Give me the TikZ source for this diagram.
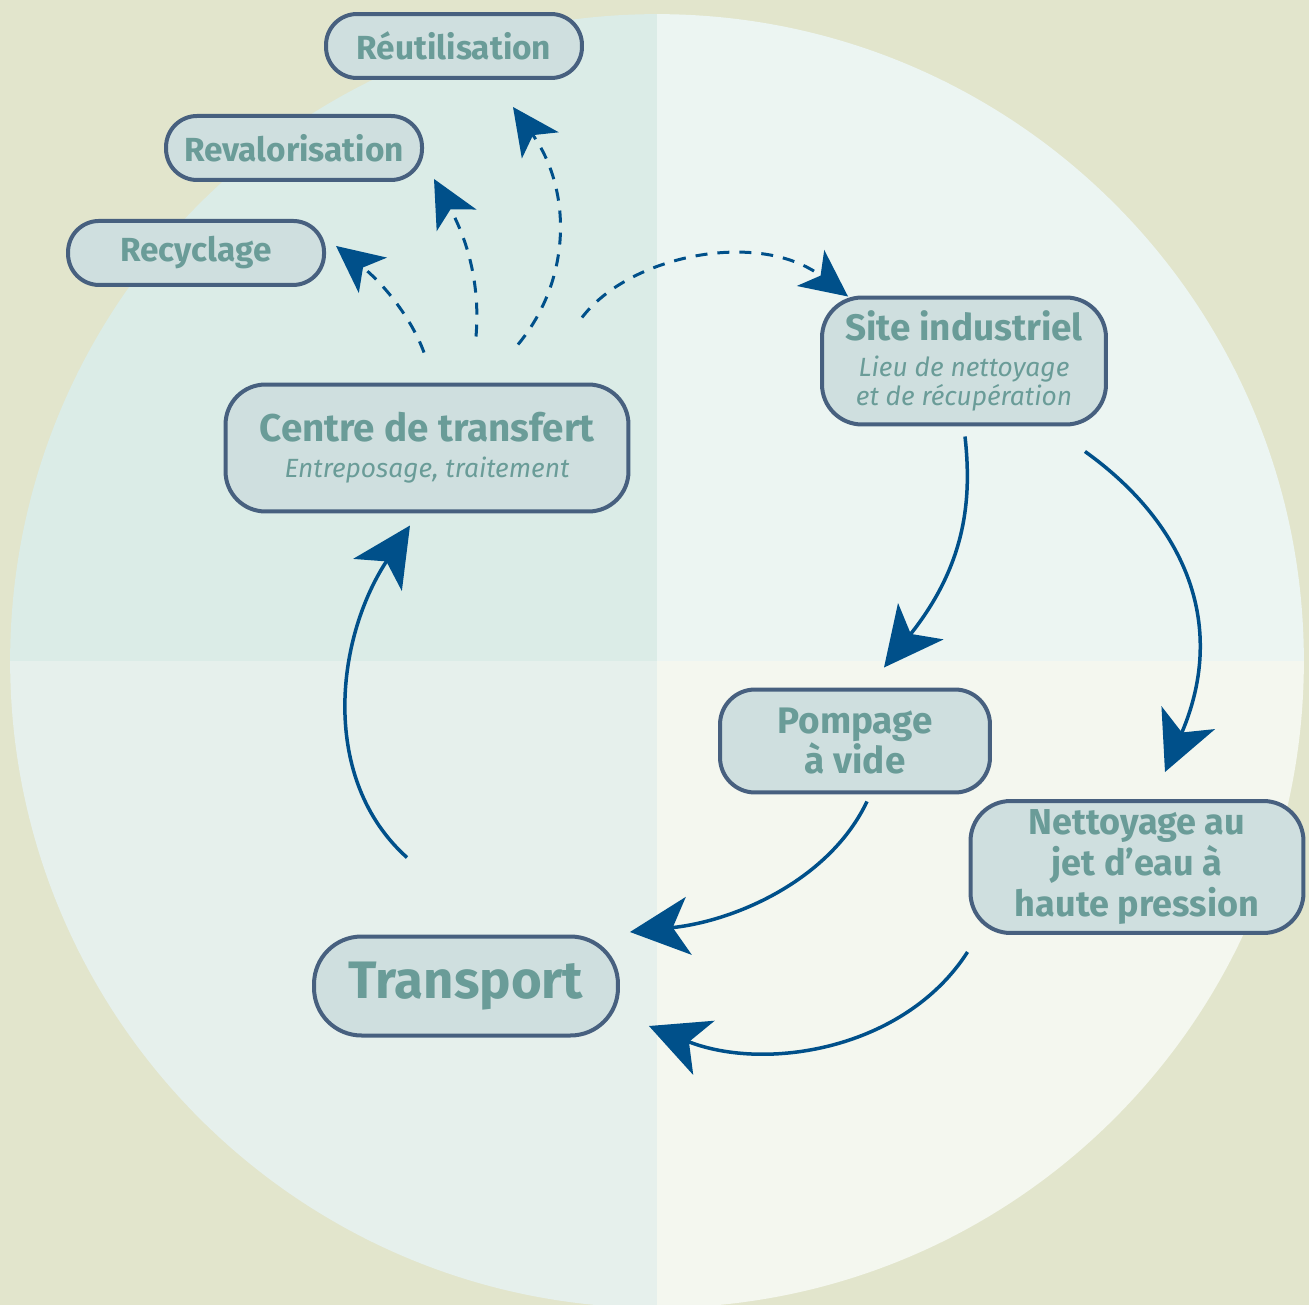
\documentclass[tikz,border=0pt]{standalone}
\usepackage{fontspec}
\setmainfont{Fira Sans}
\usetikzlibrary{positioning,calc,arrows.meta}

\definecolor{backdrop}{HTML}{E2E5CC}
\definecolor{quadnw}{HTML}{DBECE7}
\definecolor{quadne}{HTML}{ECF5F2}
\definecolor{quadsw}{HTML}{E6F0EC}
\definecolor{quadse}{HTML}{F4F7EF}
\definecolor{boxfill}{HTML}{CFDFDF}
\definecolor{boxrim}{HTML}{47607F}
\definecolor{labeltext}{HTML}{6A9C98}
\definecolor{flowblue}{HTML}{00508A}

\newcommand{\pillwidth}{5.12cm}
\newcommand{\pillheight}{1.28cm}
\newcommand{\rimwidth}{0.08cm}
\newcommand{\tallheight}{2.54cm}

\tikzstyle{stage}=[fill=boxfill,draw=boxrim,line width=\rimwidth,text=labeltext,
                   shape=rectangle,align=center,inner sep=0pt]
\tikzstyle{outlet}=[stage,rounded corners=0.62cm,minimum width=\pillwidth,
                    minimum height=\pillheight,font=\bfseries\fontsize{19}{22}\selectfont]
\tikzstyle{twoline}=[stage,rounded corners=0.8cm,minimum height=\tallheight,
                     font=\itshape\fontsize{15}{16.5}\selectfont]
\tikzstyle{flow}=[color=flowblue,line width=0.07cm,
                  -{Stealth[length=1.18cm,width=1.16cm,inset=0.32cm]}]
\tikzstyle{spill}=[color=flowblue,line width=0.06cm,dash pattern=on 0.24cm off 0.2cm,
                   -{Stealth[length=0.94cm,width=0.9cm,inset=0.25cm]}]

\begin{document}
\begin{tikzpicture}[x=0.02cm,y=0.02cm]

\fill [backdrop] (0,0) rectangle (1309,-1305);
\useasboundingbox (0,0) rectangle (1309,-1305);
\begin{scope}
\clip (657,-661) circle [radius=12.94cm];
\fill [quadnw] (0,0) rectangle (657,-661);
\fill [quadne] (657,0) rectangle (1309,-661);
\fill [quadsw] (0,-661) rectangle (657,-1305);
\fill [quadse] (657,-661) rectangle (1309,-1305);
\end{scope}

\node [outlet] (reuse) at (454,-46) {Réutilisation};
\node [outlet, below=0.68cm of reuse, xshift=-3.2cm] (reval) {Revalorisation};
\node [outlet, below=0.74cm of reval, xshift=-1.96cm] (recyc) {Recyclage};

\node [twoline, minimum width=8.06cm] (hub) at (427,-448)
      {{\upshape\bfseries\fontsize{22}{16}\selectfont Centre de transfert}\\[4pt]
       Entreposage, traitement};
\node [twoline, minimum width=5.68cm] (site) at (964,-361)
      {{\upshape\bfseries\fontsize{21}{16}\selectfont Site industriel}\\[4pt]
       Lieu de nettoyage\\et de récupération};
\node [stage, rounded corners=0.7cm, minimum width=5.4cm, minimum height=2.06cm,
       font=\bfseries\fontsize{21}{23}\selectfont] (pump) at (855,-741) {Pompage\\à vide};
\node [stage, rounded corners=0.8cm, minimum width=6.66cm, minimum height=2.64cm,
       font=\bfseries\fontsize{20.5}{23.5}\selectfont] (washer) at (1137,-867)
      {Nettoyage au\\jet d’eau à\\haute pression};
\node [stage, rounded corners=0.95cm, minimum width=6.08cm, minimum height=1.98cm,
       font=\bfseries\fontsize{30}{32}\selectfont] (transport) at (466,-986) {Transport};

\draw [flow] ($(transport.north)+(-59,77)$) .. controls +(-87,78) and +(-75,-114) .. ($(hub.south)+(-17,-12)$);
\draw [flow] ($(site.south)+(1,-10)$) .. controls +(7,-63) and +(82,103) .. ($(pump.north)+(29,20)$);
\draw [flow] ($(site.south east)+(-23,-25)$) .. controls +(95,-68) and +(65,152) .. ($(washer.north)+(28,27)$);
\draw [flow] ($(pump.south)+(12,-7)$) .. controls +(-37,-78) and +(106,11) .. ($(transport.east)+(10,54)$);
\draw [flow] ($(washer.south west)+(-1,-17)$) .. controls +(-63,-98) and +(116,-46) .. ($(transport.east)+(29,-40)$);

\draw [spill] ($(hub.north)+(-3,30)$) .. controls +(-12,33) and +(49,-39) .. ($(recyc.east)+(10,7)$);
\draw [spill] ($(hub.north)+(49,46)$) .. controls +(4,47) and +(36,-66) .. ($(reval.south east)+(10,3)$);
\draw [spill] ($(hub.north)+(91,38)$) .. controls +(54,65) and +(59,-83) .. ($(reuse.south)+(59,-27)$);
\draw [spill] ($(hub.north)+(155,65)$) .. controls +(48,63) and +(-88,67) .. ($(site.north west)+(28,-1)$);
\end{tikzpicture}
\end{document}
